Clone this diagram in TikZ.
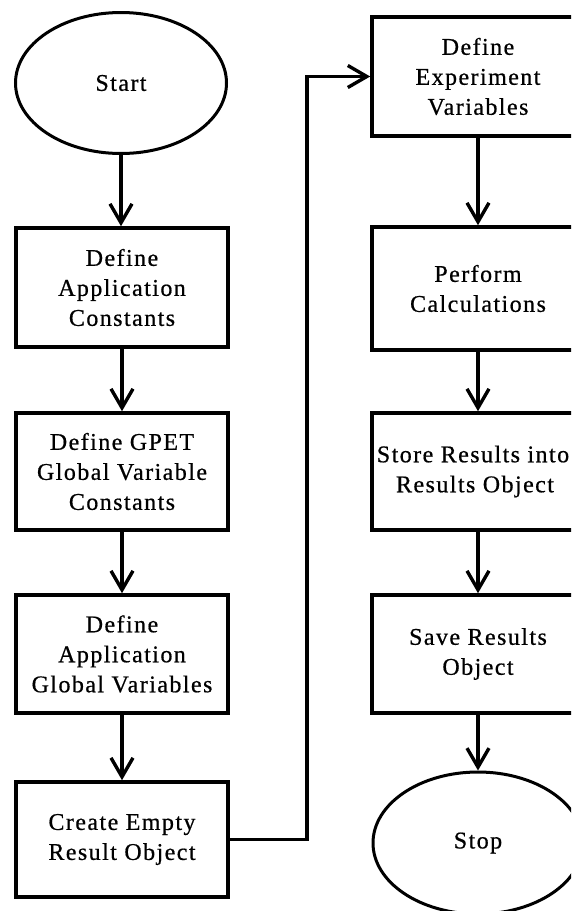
\documentclass[tikz,border=0pt]{standalone}
\usepackage{fontspec}
\setmainfont{Liberation Serif}[LetterSpace=6, FakeBold=0.6]
\usetikzlibrary{arrows.meta, shapes.geometric}

\tikzset{
  stepbox/.style={draw, line width=3.6pt, rectangle, minimum width=212pt,
    inner sep=0pt, align=center, font=\fontsize{24}{30}\selectfont},
  terminal/.style={draw, line width=3pt, ellipse, inner sep=0pt,
    font=\fontsize{24}{30}\selectfont},
  flow/.style={line width=3.4pt, -{Straight Barb[length=19pt, width=22pt, line width=3.4pt]}},
}

\begin{document}
\begin{tikzpicture}[x=1pt, y=-1pt]
  \useasboundingbox (0,0) rectangle (571,911);
  \clip (0,0) rectangle (571,911);
  \fill[white] (0,0) rectangle (571,911);

  % left column
  \node[terminal, minimum width=211pt, minimum height=141pt] (start) at (121,83) {Start};
  \node[stepbox, minimum height=119pt] (consts) at (122,287.5) {Define\\Application\\Constants};
  \node[stepbox, minimum height=117pt] (gpet) at (122,471.5) {Define GPET\\Global Variable\\Constants};
  \node[stepbox, minimum height=118pt] (globals) at (122,654) {Define\\Application\\Global Variables};
  \node[stepbox, minimum height=115pt] (empty) at (122,839.5) {Create Empty\\Result Object};

  % right column (boxes run past the right border)
  \node[stepbox, minimum height=119pt] (expvars) at (478,76.5) {Define\\Experiment\\Variables};
  \node[stepbox, minimum height=123pt] (calc) at (478,288.5) {Perform\\Calculations};
  \node[stepbox, minimum height=117pt] (store) at (478,471.5)
    {\hspace*{-10pt}Store Results into\\\hspace*{-6pt}Results Object};
  \node[stepbox, minimum height=118pt] (save) at (478,654) {Save Results\\Object};
  \node[terminal, minimum width=210pt, minimum height=142pt] (stop) at (478,843) {Stop};

  % connectors
  \draw[flow] (start.south) -- (start.south |- consts.north);
  \draw[flow] (consts) -- (gpet);
  \draw[flow] (gpet) -- (globals);
  \draw[flow] (globals) -- (empty);

  \coordinate (bend) at (307,0);
  \draw[flow] (empty.east) -- (empty.east -| bend) -- (bend |- expvars.west) -- (expvars.west);

  \draw[flow] (expvars) -- (calc);
  \draw[flow] (calc) -- (store);
  \draw[flow] (store) -- (save);
  \draw[flow] (save) -- (stop);
\end{tikzpicture}
\end{document}
